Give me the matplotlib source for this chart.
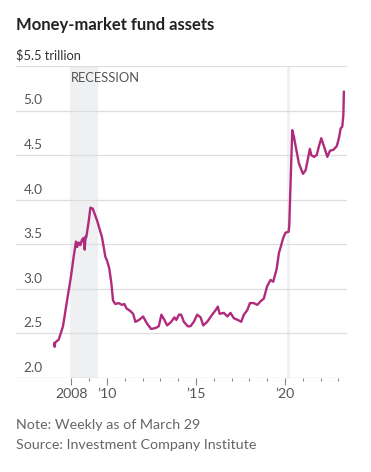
import matplotlib
matplotlib.use("Agg")
import matplotlib.pyplot as plt
from matplotlib.ticker import FixedLocator, NullFormatter

# ---- data (decimal year, $ trillion) ----
years = [2007.04, 2007.06, 2007.10, 2007.29, 2007.53, 2007.76, 2007.98,
         2008.13, 2008.26, 2008.33, 2008.41, 2008.50, 2008.60, 2008.68, 2008.75, 2008.80, 2008.84, 2008.97,
         2009.07, 2009.20, 2009.44, 2009.72, 2009.91,
         2010.00, 2010.13, 2010.25, 2010.34, 2010.47, 2010.66, 2010.85, 2010.98,
         2011.10, 2011.32, 2011.47, 2011.60, 2011.79,
         2012.03, 2012.25, 2012.48, 2012.72, 2012.91,
         2013.06, 2013.23, 2013.38, 2013.61, 2013.79, 2013.90,
         2014.04, 2014.17, 2014.32, 2014.54, 2014.69, 2014.88,
         2015.07, 2015.26, 2015.41, 2015.63, 2015.91,
         2016.10, 2016.23, 2016.33, 2016.57, 2016.76, 2016.94,
         2017.13, 2017.36, 2017.54, 2017.69, 2017.88,
         2018.03, 2018.25, 2018.44, 2018.63, 2018.81,
         2019.00, 2019.19, 2019.34, 2019.53, 2019.66, 2019.76, 2019.90,
         2020.03, 2020.20, 2020.24, 2020.32, 2020.41, 2020.50, 2020.60, 2020.78,
         2021.01, 2021.16, 2021.29, 2021.40, 2021.48, 2021.63, 2021.78, 2021.91,
         2022.04, 2022.19, 2022.38, 2022.53, 2022.72, 2022.91,
         2023.03, 2023.13, 2023.22, 2023.28, 2023.31]
assets = [2.39, 2.35, 2.40, 2.43, 2.58, 2.87, 3.14,
          3.36, 3.53, 3.47, 3.52, 3.49, 3.55, 3.57, 3.44, 3.59, 3.58, 3.75,
          3.91, 3.90, 3.77, 3.58, 3.36,
          3.32, 3.23, 3.06, 2.87, 2.83, 2.84, 2.82, 2.83,
          2.78, 2.75, 2.72, 2.63, 2.65,
          2.69, 2.61, 2.55, 2.56, 2.58,
          2.71, 2.65, 2.59, 2.63, 2.68, 2.65,
          2.71, 2.71, 2.63, 2.58, 2.58, 2.63,
          2.71, 2.68, 2.59, 2.63, 2.71,
          2.76, 2.80, 2.72, 2.73, 2.69, 2.73,
          2.67, 2.65, 2.63, 2.71, 2.76,
          2.84, 2.84, 2.82, 2.86, 2.89,
          3.03, 3.10, 3.08, 3.22, 3.40, 3.47, 3.57,
          3.63, 3.64, 3.70, 4.22, 4.78, 4.71, 4.60, 4.41,
          4.29, 4.33, 4.46, 4.57, 4.50, 4.48, 4.50, 4.60,
          4.69, 4.60, 4.48, 4.55, 4.56, 4.60,
          4.69, 4.80, 4.82, 4.95, 5.21]

recessions = [(2007.92, 2009.48), (2020.10, 2020.30)]
y_ticks = [2.0, 2.5, 3.0, 3.5, 4.0, 4.5, 5.0]
y_tick_labels = ["2.0", "2.5", "3.0", "3.5", "4.0", "4.5", "5.0"]
x_major = [2008, 2010, 2015, 2020]
x_major_labels = ["2008", "\u201910", "\u201915", "\u201920"]
x_minor = list(range(2008, 2024))

LINE = "#B02B7C"
GRID = "#dedede"
TXT = "#555555"
NARROW = ["Lato", "DejaVu Sans"]

fig = plt.figure(figsize=(3.71, 4.72), dpi=100)
fig.patch.set_facecolor("white")
ax = fig.add_axes([0.0431, 0.1992, 0.891, 0.661])
x0, x1 = 2004.89, 2023.46
ax.set_xlim(x0, x1)
ax.set_ylim(2.0, 5.5)

for s in ax.spines.values():
    s.set_visible(False)

# gridlines
for v in [2.0, 2.5, 3.0, 3.5, 4.0, 4.5, 5.0, 5.5]:
    ax.axhline(v, color=GRID if v != 2.0 else "#b8b8b8", lw=0.9, zorder=1)

for a, b in recessions:
    ax.axvspan(a, b, color="#eff0f2", lw=0, zorder=0)

ax.plot(years, assets, color=LINE, lw=1.7, zorder=3, solid_joinstyle="round")

# y labels inside axes
for v, lab in zip(y_ticks, y_tick_labels):
    ax.annotate(lab, xy=(x0, v), xytext=(5.5, 3), textcoords="offset points",
                ha="left", va="bottom", fontsize=9.8, color=TXT, family=NARROW)
ax.annotate("$5.5 trillion", xy=(x0, 5.5), xytext=(0, 3), textcoords="offset points",
            ha="left", va="bottom", fontsize=9.3, color="#333333", family=NARROW)
ax.text(recessions[0][0] + 0.05, 5.43, "RECESSION", ha="left", va="top",
        fontsize=9.3, color=TXT, family=NARROW)

# x ticks
ax.yaxis.set_visible(False)
ax.xaxis.set_major_locator(FixedLocator(x_major))
ax.set_xticklabels(x_major_labels, fontsize=10.2, color=TXT, family=NARROW)
ax.xaxis.set_minor_locator(FixedLocator(x_minor))
ax.xaxis.set_minor_formatter(NullFormatter())
ax.tick_params(axis="x", which="major", length=5, width=0.8, color="#888888", pad=2)
ax.tick_params(axis="x", which="minor", length=2.5, width=0.8, color="#888888")

fig.text(16 / 371, 1 - 25 / 472, "Money-market fund assets", ha="left", va="center",
         fontsize=12, fontweight="bold", color="#222222", family=["Lato", "DejaVu Sans"])
fig.text(16 / 371, 1 - 425 / 472, "Note: Weekly as of March 29", ha="left", va="center",
         fontsize=10.3, color="#666666", family=NARROW)
fig.text(16 / 371, 1 - 445 / 472, "Source: Investment Company Institute", ha="left", va="center",
         fontsize=10.3, color="#666666", family=NARROW)

fig.savefig("out.png", dpi=100)
